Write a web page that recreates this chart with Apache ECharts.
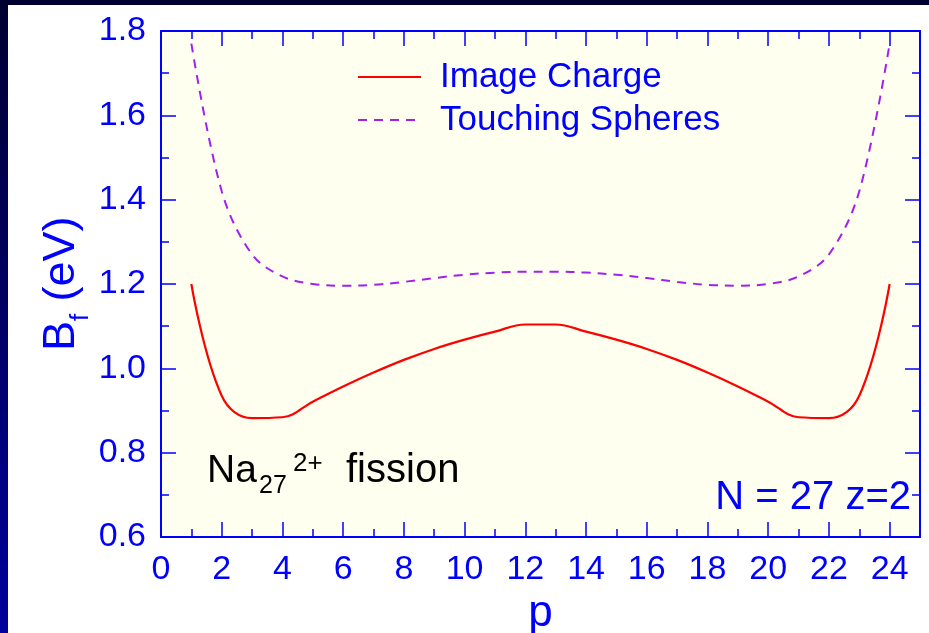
<!DOCTYPE html>
<html>
<head>
<meta charset="utf-8">
<script src="https://cdn.jsdelivr.net/npm/echarts@6/dist/echarts.min.js"></script>
<style>
  html, body { margin: 0; padding: 0; width: 929px; height: 633px; overflow: hidden;
    background: linear-gradient(to bottom, #000030, #00009c); }
  #panel { position: absolute; left: 8px; top: 5px; right: 0; bottom: 0; background: #ffffff; }
  #chart { position: absolute; left: 0; top: 0; width: 929px; height: 633px; }
</style>
</head>
<body>
<div id="panel"></div>
<div id="chart"></div>
<script>
// Fragment size p of the Na27(2+) fission channel
const pValues = [1, 2, 3, 4, 5, 6, 7, 8, 9, 10, 11, 12, 13, 14, 15, 16, 17, 18, 19, 20, 21, 22, 23, 24];
// Fission barrier B_f (eV), image-charge model
const imageCharge = [1.200, 0.935, 0.882, 0.884, 0.921, 0.957, 0.990, 1.020, 1.046, 1.068, 1.087, 1.104,
                     1.104, 1.087, 1.068, 1.046, 1.020, 0.990, 0.957, 0.921, 0.884, 0.882, 0.935, 1.200];
// Fission barrier B_f (eV), touching-spheres model
const touchingSpheres = [1.770, 1.420, 1.270, 1.218, 1.200, 1.196, 1.198, 1.205, 1.214, 1.222, 1.227, 1.229,
                         1.229, 1.227, 1.222, 1.214, 1.205, 1.198, 1.196, 1.200, 1.218, 1.270, 1.420, 1.770];
const seriesNames = ['Image Charge', 'Touching Spheres'];
const xTickStep = 2;
const yTicks = [0.6, 0.8, 1.0, 1.2, 1.4, 1.6, 1.8];

const BLUE = '#0000ff';
const FONT = '"Liberation Sans", Arial, Helvetica, sans-serif';

const chart = echarts.init(document.getElementById('chart'), null, { renderer: 'canvas' });

function xAxisDef(position, major) {
  return {
    type: 'value', gridIndex: 0, position: position,
    min: 0, max: 25, interval: major ? xTickStep : 1,
    axisLine: { show: major, onZero: false, lineStyle: { color: BLUE, width: 2 } },
    axisTick: { show: true, inside: true, length: major ? 15 : 8, lineStyle: { color: BLUE, width: 1.5 } },
    axisLabel: {
      show: major && position === 'bottom', color: BLUE, fontSize: 34, fontFamily: FONT, margin: 16,
      showMaxLabel: false, formatter: v => (v % xTickStep === 0 ? String(v) : '')
    },
    splitLine: { show: false }
  };
}

function yAxisDef(position) {
  return {
    type: 'value', gridIndex: 0, position: position,
    min: yTicks[0], max: yTicks[yTicks.length - 1], interval: 0.2,
    axisLine: { show: true, onZero: false, lineStyle: { color: BLUE, width: 2 } },
    axisTick: { show: true, inside: true, length: 15, lineStyle: { color: BLUE, width: 1.5 } },
    minorTick: { show: true, splitNumber: 2, length: 8, lineStyle: { color: BLUE, width: 1.5 } },
    axisLabel: {
      show: position === 'left', color: BLUE, fontSize: 34, fontFamily: FONT, margin: 15,
      formatter: v => v.toFixed(1)
    },
    splitLine: { show: false },
    minorSplitLine: { show: false }
  };
}

const toPairs = vals => pValues.map((p, i) => [p, vals[i]]);

const option = {
  animation: false,
  backgroundColor: 'transparent',
  textStyle: { fontFamily: FONT },
  grid: {
    left: 161, top: 31, right: 9, bottom: 96, outerBoundsMode: 'none', containLabel: false,
    show: true, backgroundColor: '#fffff0', borderWidth: 0
  },
  xAxis: [
    Object.assign(xAxisDef('bottom', true), {
      name: 'p', nameLocation: 'middle', nameGap: 40,
      nameTextStyle: { color: BLUE, fontSize: 44, fontFamily: FONT }
    }),
    xAxisDef('bottom', false),
    xAxisDef('top', true),
    xAxisDef('top', false)
  ],
  yAxis: [yAxisDef('left'), yAxisDef('right')],
  legend: {
    data: seriesNames, orient: 'vertical', left: 357, top: 57, padding: 0,
    itemWidth: 63, itemHeight: 14, itemGap: 3, selectedMode: false,
    itemStyle: { opacity: 0 },
    textStyle: { color: BLUE, fontSize: 35, fontFamily: FONT, lineHeight: 40, padding: [0, 0, 0, 14] }
  },
  series: [
    {
      name: seriesNames[0], type: 'line', xAxisIndex: 0, yAxisIndex: 0,
      data: toPairs(imageCharge), symbol: 'none', smooth: 0.4,
      lineStyle: { color: '#ff0000', width: 2.2 }, itemStyle: { color: '#ff0000' }
    },
    {
      name: seriesNames[1], type: 'line', xAxisIndex: 0, yAxisIndex: 0,
      data: toPairs(touchingSpheres), symbol: 'none', smooth: 0.35,
      lineStyle: { color: '#a020f0', width: 2, type: [9, 7] }, itemStyle: { color: '#a020f0' }
    }
  ],
  graphic: [
    // y-axis title: B_f (eV), reading bottom to top
    {
      type: 'group', x: 78, y: 351, rotation: Math.PI / 2, silent: true,
      children: [
        { type: 'text', x: 0, y: -16, style: { text: 'B', fontSize: 45, fontFamily: FONT, fill: BLUE, align: 'left', verticalAlign: 'middle' } },
        { type: 'text', x: 30, y: 3, style: { text: 'f', fontSize: 26, fontFamily: FONT, fill: BLUE, align: 'left', verticalAlign: 'middle' } },
        { type: 'text', x: 37, y: -16, style: { text: ' (eV)', fontSize: 45, fontFamily: FONT, fill: BLUE, align: 'left', verticalAlign: 'middle' } }
      ]
    },
    // Na27(2+) fission label
    { type: 'text', x: 207, y: 485 - 14, style: { text: 'Na', fontSize: 39, fontFamily: FONT, fill: '#000000', align: 'left', verticalAlign: 'middle' } },
    { type: 'text', x: 259, y: 495 - 9, style: { text: '27', fontSize: 25, fontFamily: FONT, fill: '#000000', align: 'left', verticalAlign: 'middle' } },
    { type: 'text', x: 293, y: 473 - 9, style: { text: '2+', fontSize: 26, fontFamily: FONT, fill: '#000000', align: 'left', verticalAlign: 'middle' } },
    { type: 'text', x: 346, y: 485 - 14, style: { text: 'fission', fontSize: 40, fontFamily: FONT, fill: '#000000', align: 'left', verticalAlign: 'middle' } },
    // cluster size and charge
    { type: 'text', x: 911, y: 512 - 14, style: { text: 'N = 27 z=2', fontSize: 40, fontFamily: FONT, fill: BLUE, align: 'right', verticalAlign: 'middle' } }
  ]
};

chart.setOption(option);
</script>
</body>
</html>
